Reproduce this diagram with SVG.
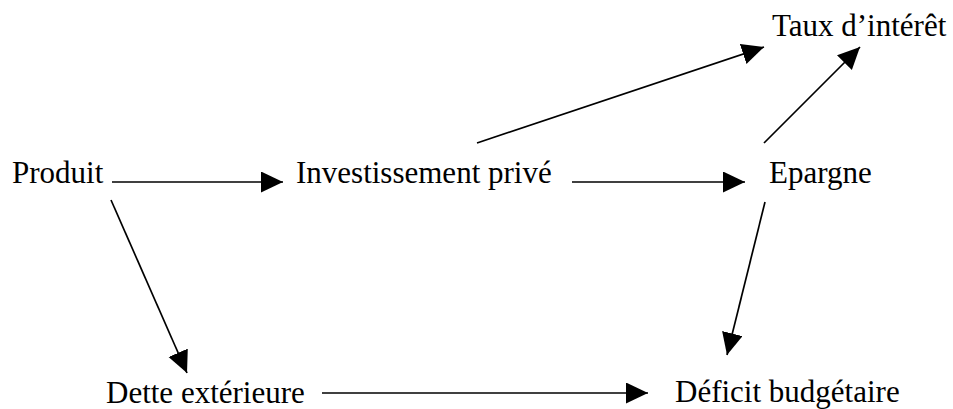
<svg xmlns="http://www.w3.org/2000/svg" width="953" height="409" viewBox="0 0 953 409">
<style>
text { font-family: "Liberation Serif", "Times New Roman", serif; font-size: 31px; fill: #000; }
.edge { stroke: #000; stroke-width: 1.7; fill: none; marker-end: url(#ah); }
</style>
<defs>
<marker id="ah" markerUnits="userSpaceOnUse" markerWidth="23" markerHeight="22" refX="22" refY="10.5" orient="auto">
<path d="M0,0 L22,10.5 L0,21 Z" fill="#000"/>
</marker>
</defs>
<rect width="953" height="409" fill="#fff"/>
<g id="connectors">
<line class="edge" x1="112" y1="182" x2="283" y2="182"/>
<line class="edge" x1="572" y1="182" x2="745" y2="182"/>
<line class="edge" x1="477" y1="143" x2="764" y2="47"/>
<line class="edge" x1="764" y1="143" x2="860" y2="47"/>
<line class="edge" x1="111" y1="200" x2="187" y2="373"/>
<line class="edge" x1="765" y1="202" x2="727" y2="355"/>
<line class="edge" x1="322" y1="393" x2="648" y2="393"/>
</g>
<g id="produit"><text x="12" y="183">Produit</text></g>
<g id="investissement"><text x="296" y="183">Investissement privé</text></g>
<g id="epargne"><text x="769" y="183">Epargne</text></g>
<g id="taux"><text x="772" y="36">Taux d’intérêt</text></g>
<g id="dette"><text x="106" y="403">Dette extérieure</text></g>
<g id="deficit"><text x="675" y="402">Déficit budgétaire</text></g>
</svg>
